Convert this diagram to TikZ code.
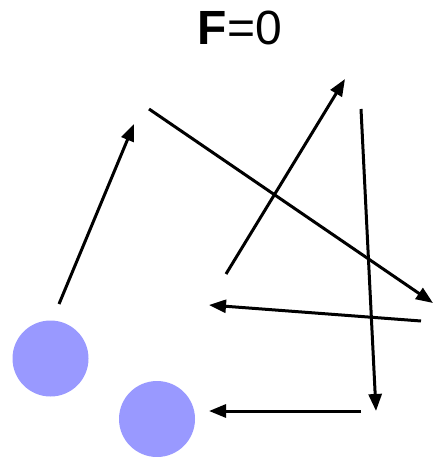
\documentclass[tikz,border=0pt]{standalone}
\usepackage{fontspec}
\setmainfont{Liberation Sans}
\usetikzlibrary{arrows.meta}
\definecolor{ball}{HTML}{9999FF}
\begin{document}
\begin{tikzpicture}[x=1pt,y=-1pt,
  vec/.style={line width=3pt,-{Triangle[length=17pt,width=13pt]}},
  ballstyle/.style={circle,fill=ball,minimum size=76pt,inner sep=0pt}]
\useasboundingbox (0,0) rectangle (432,457);
\node[font=\fontsize{48}{52}\selectfont] (title) at (240,28) {\textbf{F}=0};
\node[ballstyle] (b1) at (50.5,358.5) {};
\node[ballstyle] (b2) at (157,419) {};
\coordinate (a1s) at (59,304);  \coordinate (a1e) at (134,124);
\coordinate (a2s) at (149,109); \coordinate (a2e) at (433,303);
\coordinate (a3s) at (226,274); \coordinate (a3e) at (345,79);
\coordinate (a4s) at (361,109); \coordinate (a4e) at (376,411);
\coordinate (a5s) at (421,321); \coordinate (a5e) at (209,305);
\coordinate (a6s) at (361,411); \coordinate (a6e) at (209,411);
\draw[vec] (a1s) -- (a1e);
\draw[vec] (a2s) -- (a2e);
\draw[vec] (a3s) -- (a3e);
\draw[vec] (a4s) -- (a4e);
\draw[vec] (a5s) -- (a5e);
\draw[vec] (a6s) -- (a6e);
\end{tikzpicture}
\end{document}
